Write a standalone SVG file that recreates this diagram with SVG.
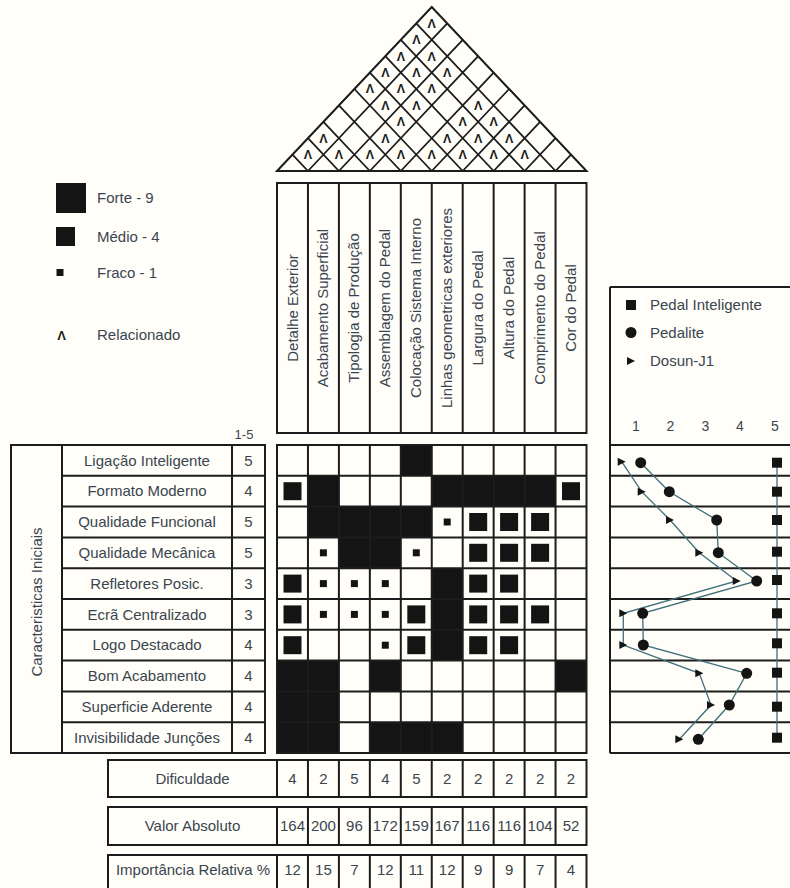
<svg xmlns="http://www.w3.org/2000/svg" width="790" height="888" viewBox="0 0 790 888">
<style>
.ln{stroke:#1c1c1c;stroke-width:2;fill:none}
.tl{stroke:#1c1c1c;stroke-width:1.8;fill:none}
.t{font-family:"Liberation Sans",Arial,sans-serif;font-size:15px;fill:#3a4550}
.c{text-anchor:middle}
.rel{font-family:"Liberation Sans",Arial,sans-serif;font-size:12.5px;font-weight:bold;fill:#1c1c1c;text-anchor:middle}
.blk{fill:#141414}
.pl{stroke:#3f6f7c;stroke-width:1.3;fill:none}
</style>
<defs>
<rect id="med" x="-9" y="-9" width="18" height="18" fill="#141414"/>
<rect id="sml" x="-3.5" y="-3.5" width="7" height="7" fill="#141414"/>
<rect id="sq" x="-5" y="-5" width="10" height="10" fill="#141414"/>
<circle id="ci" r="5.5" fill="#141414"/>
<path id="tr" d="M-4,-4 L4,0 L-4,4 Z" fill="#141414"/>
</defs>
<rect width="790" height="888" fill="#fffef8"/>

<!-- Roof -->
<g id="roof">
<polygon class="ln" points="277,171 431.75,7 586.5,171"/>
<path class="tl" d="M307.95,171 L447.225,23.4 M338.9,171 L462.7,39.8 M369.85,171 L478.175,56.2 M400.8,171 L493.65,72.6 M431.75,171 L509.125,89 M462.7,171 L524.6,105.4 M493.65,171 L540.075,121.8 M524.6,171 L555.55,138.2 M555.55,171 L571.025,154.6
M307.95,171 L292.475,154.6 M338.9,171 L307.95,138.2 M369.85,171 L323.425,121.8 M400.8,171 L338.9,105.4 M431.75,171 L354.375,89 M462.7,171 L369.85,72.6 M493.65,171 L385.325,56.2 M524.6,171 L400.8,39.8 M555.55,171 L416.275,23.4"/>
<g class="rel">
<text x="307.95" y="159">Λ</text><text x="338.9" y="159">Λ</text><text x="369.85" y="159">Λ</text><text x="400.8" y="159">Λ</text><text x="431.75" y="159">Λ</text><text x="462.7" y="159">Λ</text><text x="493.65" y="159">Λ</text><text x="524.6" y="159">Λ</text>
<text x="323.4" y="142.6">Λ</text><text x="385.3" y="142.6">Λ</text><text x="447.2" y="142.6">Λ</text><text x="478.2" y="142.6">Λ</text><text x="509.1" y="142.6">Λ</text>
<text x="400.8" y="126.2">Λ</text><text x="462.7" y="126.2">Λ</text><text x="493.65" y="126.2">Λ</text>
<text x="385.3" y="109.8">Λ</text><text x="416.3" y="109.8">Λ</text><text x="478.2" y="109.8">Λ</text>
<text x="369.85" y="93.4">Λ</text><text x="400.8" y="93.4">Λ</text><text x="431.75" y="93.4">Λ</text>
<text x="385.3" y="77">Λ</text><text x="416.3" y="77">Λ</text><text x="447.2" y="77">Λ</text>
<text x="400.8" y="60.6">Λ</text><text x="431.75" y="60.6">Λ</text>
<text x="416.3" y="44.2">Λ</text>
<text x="431.75" y="27.8">Λ</text>
</g>
</g>

<!-- Legend -->
<g id="legend">
<rect x="56" y="183" width="30" height="30" fill="#141414"/>
<text class="t" x="97" y="203">Forte - 9</text>
<rect x="56" y="227" width="19" height="19" fill="#141414"/>
<text class="t" x="97" y="242">Médio - 4</text>
<rect x="56.5" y="269" width="7" height="7" fill="#141414"/>
<text class="t" x="97" y="278">Fraco - 1</text>
<text class="rel" x="61.5" y="340" style="font-size:13px">Λ</text>
<text class="t" x="97" y="340">Relacionado</text>
</g>

<!-- Column headers -->
<g id="headers">
<rect class="ln" x="277" y="183" width="309.5" height="250"/>
<path class="ln" d="M307.95,183V433M338.9,183V433M369.85,183V433M400.8,183V433M431.75,183V433M462.7,183V433M493.65,183V433M524.6,183V433M555.55,183V433"/>
<g class="t c">
<text transform="translate(297.5,308) rotate(-90)">Detalhe Exterior</text>
<text transform="translate(328.4,308) rotate(-90)">Acabamento Superficial</text>
<text transform="translate(359.4,308) rotate(-90)">Tipologia de Produção</text>
<text transform="translate(390.3,308) rotate(-90)">Assemblagem do Pedal</text>
<text transform="translate(421.3,308) rotate(-90)">Colocação Sistema Interno</text>
<text transform="translate(452.2,308) rotate(-90)">Linhas geometricas exteriores</text>
<text transform="translate(483.2,308) rotate(-90)">Largura do Pedal</text>
<text transform="translate(514.1,308) rotate(-90)">Altura do Pedal</text>
<text transform="translate(545.1,308) rotate(-90)">Comprimento do Pedal</text>
<text transform="translate(576,308) rotate(-90)">Cor do Pedal</text>
</g>
</g>

<!-- Requirements (rows) -->
<g id="requirements">
<text class="t c" x="244" y="439" style="font-size:13px">1-5</text>
<rect class="ln" x="11" y="445" width="254" height="308"/>
<path class="ln" d="M62,445V753M232,445V753M62,475.8H265M62,506.6H265M62,537.4H265M62,568.2H265M62,599H265M62,629.8H265M62,660.6H265M62,691.4H265M62,722.2H265"/>
<text class="t c" transform="translate(42,602) rotate(-90)">Caracteristicas Iniciais</text>
<g class="t c">
<text x="147" y="465.6">Ligação Inteligente</text><text x="248.5" y="465.6">5</text>
<text x="147" y="496.4">Formato Moderno</text><text x="248.5" y="496.4">4</text>
<text x="147" y="527.2">Qualidade Funcional</text><text x="248.5" y="527.2">5</text>
<text x="147" y="558">Qualidade Mecânica</text><text x="248.5" y="558">5</text>
<text x="147" y="588.8">Refletores Posic.</text><text x="248.5" y="588.8">3</text>
<text x="147" y="619.6">Ecrã Centralizado</text><text x="248.5" y="619.6">3</text>
<text x="147" y="650.4">Logo Destacado</text><text x="248.5" y="650.4">4</text>
<text x="147" y="681.2">Bom Acabamento</text><text x="248.5" y="681.2">4</text>
<text x="147" y="712">Superficie Aderente</text><text x="248.5" y="712">4</text>
<text x="147" y="742.8">Invisibilidade Junções</text><text x="248.5" y="742.8">4</text>
</g>
</g>

<!-- Relationship matrix -->
<g id="matrix">
<g class="blk">
<rect x="400.8" y="445" width="30.95" height="30.8"/>
<rect x="307.95" y="475.8" width="30.95" height="30.8"/>
<rect x="431.75" y="475.8" width="123.8" height="30.8"/>
<rect x="307.95" y="506.6" width="123.8" height="30.8"/>
<rect x="338.9" y="537.4" width="61.9" height="30.8"/>
<rect x="431.75" y="568.2" width="30.95" height="92.4"/>
<rect x="277" y="660.6" width="61.9" height="92.4"/>
<rect x="369.85" y="660.6" width="30.95" height="30.8"/>
<rect x="555.55" y="660.6" width="30.95" height="30.8"/>
<rect x="369.85" y="722.2" width="92.85" height="30.8"/>
</g>
<use href="#med" x="292.5" y="491.2"/><use href="#med" x="571" y="491.2"/>
<use href="#med" x="478.2" y="522"/><use href="#med" x="509.1" y="522"/><use href="#med" x="540.1" y="522"/>
<use href="#med" x="478.2" y="552.8"/><use href="#med" x="509.1" y="552.8"/><use href="#med" x="540.1" y="552.8"/>
<use href="#med" x="292.5" y="583.6"/><use href="#med" x="478.2" y="583.6"/><use href="#med" x="509.1" y="583.6"/>
<use href="#med" x="292.5" y="614.4"/><use href="#med" x="416.3" y="614.4"/><use href="#med" x="478.2" y="614.4"/><use href="#med" x="509.1" y="614.4"/><use href="#med" x="540.1" y="614.4"/>
<use href="#med" x="292.5" y="645.2"/><use href="#med" x="416.3" y="645.2"/><use href="#med" x="478.2" y="645.2"/><use href="#med" x="509.1" y="645.2"/>
<use href="#sml" x="447.2" y="522"/>
<use href="#sml" x="323.4" y="552.8"/><use href="#sml" x="416.3" y="552.8"/>
<use href="#sml" x="323.4" y="583.6"/><use href="#sml" x="354.4" y="583.6"/><use href="#sml" x="385.3" y="583.6"/>
<use href="#sml" x="323.4" y="614.4"/><use href="#sml" x="354.4" y="614.4"/><use href="#sml" x="385.3" y="614.4"/>
<use href="#sml" x="385.3" y="645.2"/>
<rect class="ln" x="277" y="445" width="309.5" height="308"/>
<path class="ln" d="M307.95,445V753M338.9,445V753M369.85,445V753M400.8,445V753M431.75,445V753M462.7,445V753M493.65,445V753M524.6,445V753M555.55,445V753
M277,475.8H586.5M277,506.6H586.5M277,537.4H586.5M277,568.2H586.5M277,599H586.5M277,629.8H586.5M277,660.6H586.5M277,691.4H586.5M277,722.2H586.5"/>
</g>

<!-- Bottom rows -->
<g id="dificuldade">
<rect class="ln" x="108" y="760" width="478.5" height="37"/>
<path class="ln" d="M277,760V797M307.95,760V797M338.9,760V797M369.85,760V797M400.8,760V797M431.75,760V797M462.7,760V797M493.65,760V797M524.6,760V797M555.55,760V797"/>
<g class="t c">
<text x="192.5" y="783.5">Dificuldade</text>
<text x="292.5" y="783.5">4</text><text x="323.4" y="783.5">2</text><text x="354.4" y="783.5">5</text><text x="385.3" y="783.5">4</text><text x="416.3" y="783.5">5</text><text x="447.2" y="783.5">2</text><text x="478.2" y="783.5">2</text><text x="509.1" y="783.5">2</text><text x="540.1" y="783.5">2</text><text x="571" y="783.5">2</text>
</g>
</g>
<g id="valor-absoluto">
<rect class="ln" x="108" y="807" width="478.5" height="38"/>
<path class="ln" d="M277,807V845M307.95,807V845M338.9,807V845M369.85,807V845M400.8,807V845M431.75,807V845M462.7,807V845M493.65,807V845M524.6,807V845M555.55,807V845"/>
<g class="t c">
<text x="192.5" y="831">Valor Absoluto</text>
<text x="292.5" y="831">164</text><text x="323.4" y="831">200</text><text x="354.4" y="831">96</text><text x="385.3" y="831">172</text><text x="416.3" y="831">159</text><text x="447.2" y="831">167</text><text x="478.2" y="831">116</text><text x="509.1" y="831">116</text><text x="540.1" y="831">104</text><text x="571" y="831">52</text>
</g>
</g>
<g id="importancia">
<rect class="ln" x="108" y="855" width="478.5" height="40"/>
<path class="ln" d="M277,855V895M307.95,855V895M338.9,855V895M369.85,855V895M400.8,855V895M431.75,855V895M462.7,855V895M493.65,855V895M524.6,855V895M555.55,855V895"/>
<g class="t c">
<text x="193" y="875">Importância Relativa %</text>
<text x="292.5" y="875">12</text><text x="323.4" y="875">15</text><text x="354.4" y="875">7</text><text x="385.3" y="875">12</text><text x="416.3" y="875">11</text><text x="447.2" y="875">12</text><text x="478.2" y="875">9</text><text x="509.1" y="875">9</text><text x="540.1" y="875">7</text><text x="571" y="875">4</text>
</g>
</g>

<!-- Competitive assessment chart -->
<g id="chart">
<path class="ln" d="M610,287V753M610,287H792M610,445H792M610,475.8H792M610,506.6H792M610,537.4H792M610,568.2H792M610,599H792M610,629.8H792M610,660.6H792M610,691.4H792M610,722.2H792M610,753H792"/>
<use href="#sq" x="631" y="305"/>
<text class="t" x="650" y="310">Pedal Inteligente</text>
<use href="#ci" x="631" y="332.5"/>
<text class="t" x="650" y="337.5">Pedalite</text>
<use href="#tr" x="631" y="361"/>
<text class="t" x="650" y="366">Dosun-J1</text>
<g class="t c" style="font-size:14px">
<text x="636" y="431">1</text><text x="670.5" y="431">2</text><text x="705.5" y="431">3</text><text x="740" y="431">4</text><text x="775" y="431">5</text>
</g>
</g>
<g id="connectors">
<polyline class="pl" points="777,462.7 777,737.7"/>
<polyline class="pl" points="640.7,462.7 669.3,491.7 716.7,520 718.3,552.7 756.7,581 642.7,613.3 643.3,645 746.7,673.3 729.3,705 698.3,739.3"/>
<polyline class="pl" points="621.7,461.7 641.7,491.7 670,520 699.3,552.7 736.7,581 623.3,613.3 623.3,645 699.3,673.3 711,705 679.3,739.3"/>
</g>
<g id="markers">
<use href="#sq" x="777" y="462.7"/><use href="#sq" x="777" y="491.7"/><use href="#sq" x="777" y="520"/><use href="#sq" x="777" y="551.7"/><use href="#sq" x="777" y="580"/><use href="#sq" x="777" y="613.3"/><use href="#sq" x="777" y="643.3"/><use href="#sq" x="777" y="672.7"/><use href="#sq" x="777" y="706.7"/><use href="#sq" x="777" y="737.7"/>
<use href="#ci" x="640.7" y="462.7"/><use href="#ci" x="669.3" y="491.7"/><use href="#ci" x="716.7" y="520"/><use href="#ci" x="718.3" y="552.7"/><use href="#ci" x="756.7" y="581"/><use href="#ci" x="642.7" y="613.3"/><use href="#ci" x="643.3" y="645"/><use href="#ci" x="746.7" y="673.3"/><use href="#ci" x="729.3" y="705"/><use href="#ci" x="698.3" y="739.3"/>
<use href="#tr" x="621.7" y="461.7"/><use href="#tr" x="641.7" y="491.7"/><use href="#tr" x="670" y="520"/><use href="#tr" x="699.3" y="552.7"/><use href="#tr" x="736.7" y="581"/><use href="#tr" x="623.3" y="613.3"/><use href="#tr" x="623.3" y="645"/><use href="#tr" x="699.3" y="673.3"/><use href="#tr" x="711" y="705"/><use href="#tr" x="679.3" y="739.3"/>
</g>
</svg>
